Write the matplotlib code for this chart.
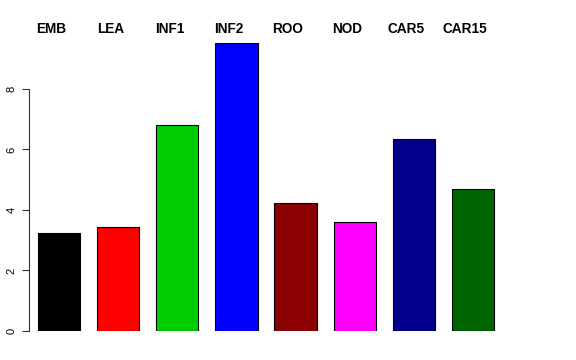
import matplotlib
matplotlib.use("Agg")
import matplotlib.pyplot as plt
import numpy as np

plt.rcParams['font.family'] = ['Liberation Sans', 'DejaVu Sans']

labels = ["EMB", "LEA", "INF1", "INF2", "ROO", "NOD", "CAR5", "CAR15"]
values = [3.24, 3.44, 6.81, 9.52, 4.23, 3.60, 6.35, 4.69]
colors = ["#000000", "#FF0000", "#00CD00", "#0000FF", "#8B0000", "#FF00FF", "#00008B", "#006400"]

# R barplot layout: width 1, space 0.4
x = 0.9 + 1.4 * np.arange(len(values))

fig = plt.figure(figsize=(5.76, 3.6), dpi=100)
W, H = 576, 360
ax = fig.add_axes([29 / W, (H - 331) / H, (503 - 29) / W, (331 - 43) / H])

ax.bar(x, values, width=1.0, color=colors, edgecolor="black", linewidth=0.8)

ax.set_xlim(0.4 - 9 / 42.15, 11.2 + 9 / 42.15)
ax.set_ylim(0, max(values))

for s in ["top", "right", "bottom"]:
    ax.spines[s].set_visible(False)
ax.spines["left"].set_bounds(0, 8)
ax.spines["left"].set_color("#333333")
ax.spines["left"].set_linewidth(0.8)

ax.set_xticks([])
ax.set_yticks([0, 2, 4, 6, 8])
ax.tick_params(axis="y", length=5, width=0.8, labelsize=8, pad=4, color="#333333")
for t in ax.get_yticklabels():
    t.set_rotation(90)
    t.set_va("center")

for xi, lab in zip(x, labels):
    ax.text(xi - 0.19, 9.98, lab, ha="center", va="center", fontsize=9.8,
            fontweight="bold", clip_on=False)

fig.savefig("out.png", dpi=100)
